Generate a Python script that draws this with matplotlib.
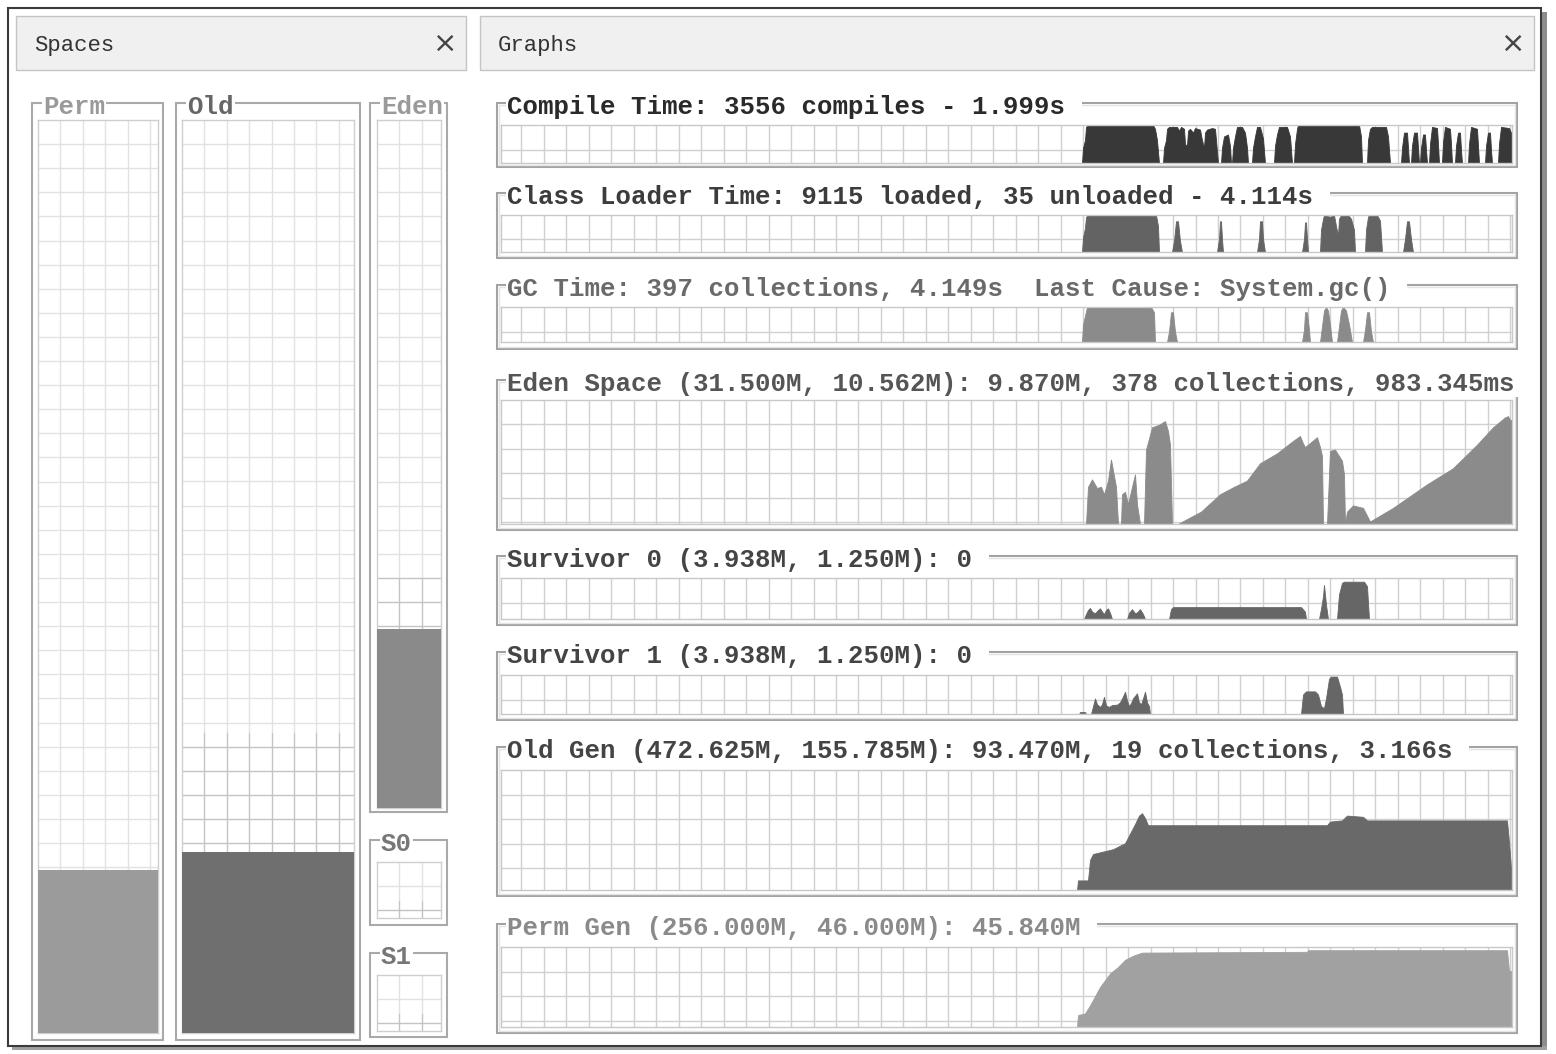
import numpy as np
import matplotlib.pyplot as plt
from matplotlib.patches import Rectangle

# ---------------- data ----------------
# graphs: (sample, % of graph height); the window holds 1011 samples
T_MAX = 1011

compile_pts = [(581, 0), (582, 40), (584, 60), (585, 95), (587, 100), (652, 100), (654, 90), (656, 60), (658, 0),
               (662, 0), (663, 40), (665, 60), (666, 90), (668, 95), (676, 95), (678, 85), (680, 95),
               (683, 90), (684, 50), (686, 45), (687, 85), (689, 90), (692, 80), (694, 92), (699, 88),
               (701, 60), (703, 40), (704, 80), (706, 88), (711, 92), (714, 90), (715, 60), (717, 0),
               (720, 0), (721, 40), (723, 70), (727, 75), (729, 45), (730, 0),
               (731, 0), (732, 40), (734, 70), (736, 95), (741, 95), (744, 80), (746, 40), (747, 0),
               (751, 0), (752, 40), (754, 70), (756, 95), (759, 95), (762, 65), (764, 0),
               (773, 0), (774, 45), (776, 75), (778, 95), (786, 95), (789, 70), (791, 0),
               (793, 0), (794, 50), (796, 90), (797, 100), (858, 100), (860, 70), (861, 0),
               (866, 0), (867, 60), (869, 90), (871, 95), (885, 95), (887, 70), (889, 0),
               (900, 0), (901, 40), (903, 80), (906, 80), (907, 40), (908, 0),
               (910, 0), (911, 45), (913, 80), (916, 80), (917, 40), (918, 0),
               (919, 0), (920, 40), (922, 75), (924, 75), (925, 35), (926, 0),
               (928, 0), (929, 50), (931, 95), (936, 92), (937, 50), (938, 0),
               (941, 0), (942, 55), (944, 95), (949, 90), (950, 50), (951, 0),
               (954, 0), (955, 45), (957, 80), (959, 80), (960, 35), (961, 0),
               (967, 0), (968, 50), (970, 95), (976, 90), (977, 45), (978, 0),
               (984, 0), (985, 45), (987, 80), (989, 80), (990, 35), (991, 0),
               (997, 0), (998, 50), (1000, 95), (1008, 92), (1010, 80), (1011, 80)]

classload_pts = [(581, 0), (582, 40), (584, 65), (585, 95), (587, 100), (655, 100), (657, 70), (658, 0),
                 (671, 0), (673, 30), (675, 83), (677, 83), (679, 30), (681, 0),
                 (716, 0), (718, 35), (719, 83), (720, 83), (721, 35), (722, 0),
                 (756, 0), (758, 35), (759, 83), (761, 83), (762, 35), (764, 0),
                 (801, 0), (803, 35), (804, 80), (805, 80), (806, 35), (807, 0),
                 (819, 0), (820, 60), (822, 90), (823, 100), (829, 95), (833, 100), (835, 70), (837, 45),
                 (838, 90), (840, 100), (847, 100), (850, 90), (853, 60), (854, 0),
                 (864, 0), (865, 60), (867, 95), (868, 100), (876, 100), (879, 85), (881, 0),
                 (902, 0), (904, 35), (906, 83), (908, 83), (910, 35), (912, 0)]

gc_pts = [(581, 0), (582, 50), (584, 75), (586, 100), (650, 100), (653, 85), (654, 0),
          (666, 0), (668, 30), (670, 85), (672, 85), (674, 30), (676, 0),
          (801, 0), (803, 35), (804, 85), (806, 85), (808, 35), (809, 0),
          (819, 0), (821, 45), (823, 90), (825, 100), (827, 90), (829, 50), (831, 0),
          (836, 0), (838, 45), (840, 90), (842, 100), (845, 90), (848, 50), (851, 0),
          (862, 0), (864, 35), (866, 85), (868, 85), (870, 30), (872, 0)]

eden_pts = [(585, 0), (587, 30), (591, 36), (596, 29), (600, 30), (603, 24), (607, 35), (610, 52),
            (612, 43), (615, 30), (617, 0),
            (620, 0), (621, 24), (624, 26), (627, 16), (631, 30), (634, 40), (636, 16), (639, 0),
            (643, 0), (645, 60), (651, 78), (658, 80), (664, 83), (667, 75), (669, 64), (671, 0),
            (677, 0), (686, 4), (700, 10), (719, 24), (733, 30), (746, 35), (759, 49), (776, 57),
            (792, 67), (799, 71), (802, 65), (804, 62), (810, 66), (816, 70), (819, 62), (821, 55),
            (822, 0),
            (826, 0), (829, 59), (834, 60), (841, 51), (843, 40), (844, 0),
            (846, 10), (852, 15), (862, 13), (869, 2),
            (871, 3), (892, 13), (926, 32), (952, 45), (976, 64), (992, 78), (1004, 86),
            (1007, 87), (1009, 84), (1011, 84)]

surv0_pts = [(583, 0), (585, 12), (587, 22), (589, 27), (591, 18), (594, 14), (597, 22), (599, 26),
             (601, 18), (603, 12), (605, 22), (607, 26), (609, 15), (611, 0),
             (626, 0), (628, 15), (631, 24), (634, 14), (636, 16), (639, 24), (642, 12), (644, 0),
             (668, 0), (670, 24), (672, 29), (800, 29), (804, 18), (805, 0),
             (818, 0), (820, 25), (822, 55), (823, 83), (825, 35), (827, 0),
             (836, 0), (838, 60), (841, 88), (843, 91), (863, 91), (866, 80), (868, 0)]

surv1_pts = [(578, 0), (579, 5), (584, 5), (585, 0),
             (590, 0), (592, 20), (594, 40), (596, 25), (599, 18), (601, 25), (603, 44), (605, 22),
             (608, 18), (611, 23), (616, 24), (619, 30), (622, 45), (624, 57), (626, 35), (628, 20),
             (630, 28), (632, 40), (636, 53), (638, 30), (640, 25), (642, 40), (644, 57), (646, 30),
             (648, 20), (649, 0),
             (800, 0), (802, 50), (805, 58), (814, 58), (817, 50), (820, 20), (823, 15), (825, 40),
             (828, 90), (830, 96), (836, 96), (839, 70), (841, 50), (842, 0)]

oldgen_pts = [(576, 0), (577, 8), (587, 8), (589, 25), (592, 30), (602, 32), (612, 34), (624, 39),
              (629, 47), (634, 55), (638, 62), (641, 64), (644, 60), (647, 54), (826, 54), (829, 57),
              (841, 58), (846, 62), (862, 61), (866, 58), (1006, 58), (1008, 40), (1010, 19),
              (1011, 19)]

permgen_pts = [(576, 0), (577, 15), (584, 17), (589, 27), (599, 50), (609, 67), (617, 75), (624, 84),
               (632, 89), (641, 93), (806, 94), (807, 96), (1006, 96), (1008, 70), (1011, 70)]

graph_titles = ['Compile Time: 3556 compiles - 1.999s',
                'Class Loader Time: 9115 loaded, 35 unloaded - 4.114s',
                'GC Time: 397 collections, 4.149s  Last Cause: System.gc()',
                'Eden Space (31.500M, 10.562M): 9.870M, 378 collections, 983.345ms',
                'Survivor 0 (3.938M, 1.250M): 0',
                'Survivor 1 (3.938M, 1.250M): 0',
                'Old Gen (472.625M, 155.785M): 93.470M, 19 collections, 3.166s',
                'Perm Gen (256.000M, 46.000M): 45.840M']
graph_series = [compile_pts, classload_pts, gc_pts, eden_pts,
                surv0_pts, surv1_pts, oldgen_pts, permgen_pts]

# spaces panel (MB)
space_names = ['Perm', 'Old', 'Eden', 'S0', 'S1']
space_max = [256.0, 472.625, 31.5, 3.938, 3.938]
space_capacity = [46.0, 155.785, 10.562, 1.25, 1.25]
space_used = [45.84, 93.47, 8.2, 0.0, 0.0]

# ---------------- styling / layout ----------------
graph_fill = ['#383838', '#636363', '#8b8b8b', '#8b8b8b', '#666666', '#666666', '#696969', '#a1a1a1']
graph_text = ['#2a2a2a', '#3c3c3c', '#6a6a6a', '#555555', '#444444', '#444444', '#444444', '#8a8a8a']
# box top, box bottom, grid top, grid bottom (pixels)
graph_rows = [(103, 167, 125, 163), (193, 258, 215, 252), (285, 349, 307, 342),
              (380, 530, 400, 524), (556, 625, 578, 619), (652, 720, 675, 714),
              (747, 896, 770, 890), (924, 1033, 947, 1027)]

space_fill = ['#9b9b9b', '#6f6f6f', '#8a8a8a', '#8a8a8a', '#8a8a8a']
space_text = ['#9a9a9a', '#666666', '#9a9a9a', '#777777', '#777777']
space_boxes = [(32, 103, 163, 1040), (176, 103, 360, 1040), (370, 103, 447, 812),
               (370, 840, 447, 925), (370, 953, 447, 1037)]
space_grids = [(38, 120, 158, 1033), (182, 120, 354, 1033), (377, 120, 441, 808),
               (377, 862, 441, 918), (377, 975, 441, 1031)]

W, H = 1556, 1054
MONO = 'Liberation Mono'

fig = plt.figure(figsize=(W / 100, H / 100), dpi=100)
fig.patch.set_facecolor('white')


def px_axes(x0, y0, x1, y1, z=1):
    return fig.add_axes([x0 / W, 1 - y1 / H, (x1 - x0) / W, (y1 - y0) / H], zorder=z)


def plain(ax, edge='#c8c8c8'):
    ax.set_xticks([])
    ax.set_yticks([])
    for s in ax.spines.values():
        s.set_color(edge)
        s.set_linewidth(1)


# overlay for window chrome and box frames
ov = px_axes(0, 0, W, H, z=0)
ov.set_xlim(0, W)
ov.set_ylim(H, 0)
ov.axis('off')

ov.add_patch(Rectangle((1541, 12), 6, 1038, fc='#8c8c8c', ec='none'))
ov.add_patch(Rectangle((12, 1046), 1535, 4, fc='#a0a0a0', ec='none'))
ov.add_patch(Rectangle((8, 8), 1533, 1038, fc='white', ec='#3a3a3a', lw=1.5))

# panel headers
for x0, x1, name in [(16, 466, 'Spaces'), (480, 1534, 'Graphs')]:
    ov.add_patch(Rectangle((x0, 16), x1 - x0, 54, fc='#f0f0f0', ec='#c4c4c4', lw=1))
    ov.text(x0 + 18, 45, name, fontfamily=MONO, fontsize=16, color='#333333', va='center')
    ov.text(x1 - 21, 44, '\u00d7', fontfamily='DejaVu Sans', fontsize=21, color='#444444',
            va='center', ha='center')

# ---- Spaces panel ----
for i, name in enumerate(space_names):
    bx0, by0, bx1, by1 = space_boxes[i]
    ov.add_patch(Rectangle((bx0, by0), bx1 - bx0, by1 - by0, fc='none', ec='#a9a9a9', lw=1.5, zorder=1))
    ov.text(bx0 + 11, by0 + 4, name, fontfamily=MONO, fontweight='bold', fontsize=18.5,
            color=space_text[i], va='center', zorder=3,
            bbox=dict(fc='white', ec='none', pad=1.0))

    gx0, gy0, gx1, gy1 = space_grids[i]
    gw, gh = gx1 - gx0, gy1 - gy0
    ax = px_axes(gx0, gy0, gx1, gy1)
    ax.set_xlim(0, 1)
    ax.set_ylim(0, space_max[i])
    cap = space_capacity[i]
    ystep = space_max[i] * 24.1 / gh
    for y in space_max[i] - np.arange(1, int(gh / 24.1) + 1) * ystep:
        ax.axhline(y, color='#c4c4c4' if y < cap else '#e2e2e2', lw=1, zorder=0)
    for x in np.arange(22.4 / gw, 1, 22.4 / gw):
        ax.vlines(x, 0, cap, color='#c4c4c4', lw=1, zorder=0)
        ax.vlines(x, cap, space_max[i], color='#e2e2e2', lw=1, zorder=0)
    ax.bar(0.5, space_used[i], width=1.0, color=space_fill[i], zorder=3)
    plain(ax, '#cfcfcf')

# ---- Graphs panel ----
for i, title in enumerate(graph_titles):
    top, bot, gtop, gbot = graph_rows[i]
    ov.add_patch(Rectangle((497, top), 1020, bot - top, fc='none', ec='#a3a3a3', lw=1.5, zorder=1))
    ov.add_patch(Rectangle((499, top + 2), 1016, bot - top - 4, fc='none', ec='#e4e4e4', lw=1, zorder=1))
    ov.text(507, top + 4, title + ' ', fontfamily=MONO, fontweight='bold', fontsize=18.5,
            color=graph_text[i], va='center', zorder=3,
            bbox=dict(fc='white', ec='none', pad=1.0))

    gh = gbot - gtop
    ax = px_axes(501, gtop, 1512, gbot)
    ax.set_xlim(0, T_MAX)
    ax.set_ylim(0, 100)
    for x in np.arange(20.4, T_MAX, 22.47):
        ax.axvline(x, color='#d0d0d0', lw=1, zorder=0)
    for k in range(1, int(gh / 24.5) + 1):
        ax.axhline(100 - k * 24.5 * 100 / gh, color='#d0d0d0', lw=1, zorder=0)
    pts = np.array(graph_series[i], dtype=float)
    ax.fill_between(pts[:, 0], pts[:, 1], 0, color=graph_fill[i], lw=0.6, zorder=2)
    plain(ax, '#c8c8c8')

fig.savefig('out.png', dpi=100, facecolor='white')
